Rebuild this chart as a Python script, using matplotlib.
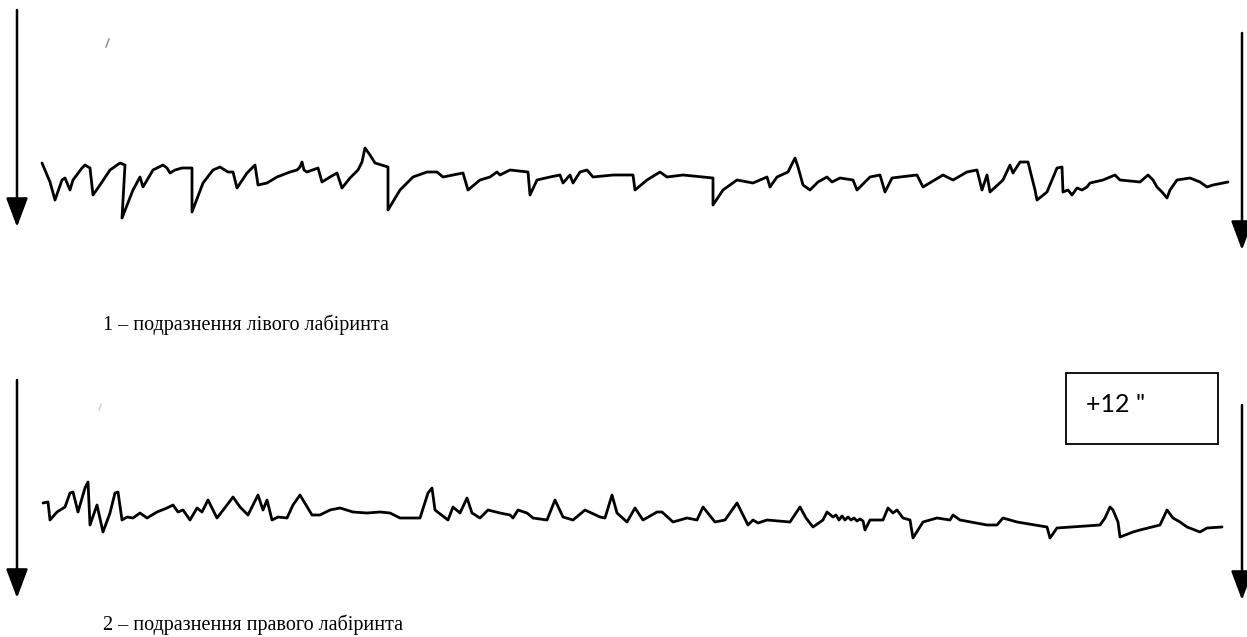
import matplotlib
matplotlib.use("Agg")
import matplotlib.pyplot as plt

# nystagmogram traces: (x, y) in page pixels, y grows down
trace1 = [(42, 163), (50, 182), (55, 200), (62, 180), (65, 178), (70, 190),
          (73, 180), (82, 168), (85, 165), (90, 168), (93, 195), (100, 185),
          (110, 170), (120, 163), (125, 165), (122, 218), (133, 190), (140, 177),
          (143, 187), (153, 170), (163, 165), (167, 168), (170, 173), (175, 170),
          (182, 168), (192, 168), (192, 212), (203, 183), (213, 170), (220, 167),
          (228, 172), (233, 172), (237, 188), (247, 173), (255, 165), (258, 185),
          (267, 183), (277, 177), (290, 172), (297, 170), (300, 167), (302, 162),
          (304, 170), (307, 172), (318, 168), (322, 182), (330, 177), (337, 173),
          (342, 188), (350, 178), (358, 170), (362, 162), (365, 148), (370, 155),
          (375, 163), (388, 167), (388, 210), (400, 190), (413, 177), (427, 172),
          (437, 172), (443, 177), (463, 173), (468, 190), (480, 180), (490, 177),
          (497, 172), (500, 175), (510, 170), (528, 172), (530, 195), (537, 180),
          (550, 177), (560, 175), (563, 183), (570, 175), (573, 183), (580, 172),
          (587, 170), (593, 177), (613, 175), (633, 175), (635, 190), (647, 180),
          (660, 172), (667, 177), (683, 175), (713, 178), (713, 205), (723, 190),
          (737, 180), (753, 183), (767, 177), (770, 187), (777, 177), (788, 172),
          (795, 158), (798, 167), (803, 185), (810, 190), (818, 182), (827, 177),
          (832, 182), (840, 178), (853, 180), (857, 190), (870, 177), (875, 176),
          (880, 175), (885, 192), (892, 178), (900, 177), (917, 175), (923, 187),
          (943, 175), (953, 180), (967, 172), (977, 170), (982, 190), (987, 175),
          (990, 192), (1003, 180), (1010, 165), (1013, 173), (1020, 162),
          (1028, 162), (1035, 190), (1037, 200), (1047, 192), (1057, 168),
          (1062, 167), (1063, 192), (1068, 190), (1072, 195), (1077, 188),
          (1082, 190), (1087, 187), (1090, 183), (1103, 180), (1115, 175),
          (1120, 180), (1140, 182), (1148, 175), (1153, 180), (1157, 187),
          (1162, 192), (1167, 198), (1170, 190), (1177, 180), (1190, 178),
          (1200, 182), (1207, 187), (1213, 185), (1228, 182)]

trace2 = [(43, 503), (48, 502), (50, 520), (57, 512), (65, 507), (70, 493),
          (73, 492), (78, 512), (85, 488), (88, 482), (90, 525), (97, 505),
          (103, 532), (110, 513), (115, 493), (118, 492), (122, 520), (127, 517),
          (133, 518), (140, 513), (147, 518), (157, 512), (167, 508), (173, 505),
          (178, 512), (183, 510), (190, 520), (197, 508), (202, 512), (208, 500),
          (212, 508), (217, 518), (227, 505), (233, 497), (240, 507), (248, 515),
          (258, 495), (263, 510), (267, 500), (272, 520), (278, 517), (287, 518),
          (293, 505), (300, 495), (303, 500), (312, 515), (320, 515), (330, 510),
          (340, 508), (353, 512), (367, 513), (380, 512), (390, 513), (400, 518),
          (420, 518), (428, 493), (432, 488), (435, 510), (448, 520), (453, 507),
          (460, 513), (467, 498), (472, 513), (480, 518), (488, 510), (500, 513),
          (510, 515), (513, 518), (518, 510), (527, 513), (533, 518), (547, 520),
          (555, 500), (563, 517), (573, 520), (585, 510), (600, 517), (605, 518),
          (612, 495), (617, 513), (627, 522), (635, 508), (643, 520), (657, 512),
          (662, 512), (673, 522), (687, 518), (697, 520), (703, 507), (715, 522),
          (725, 520), (737, 503), (742, 513), (748, 525), (753, 520), (758, 523),
          (767, 520), (790, 522), (800, 507), (806, 518), (813, 527), (823, 520),
          (827, 512), (833, 517), (836, 515), (839, 520), (842, 516), (845, 520),
          (848, 517), (851, 520), (854, 518), (857, 521), (860, 519), (863, 521),
          (865, 530), (870, 520), (883, 520), (888, 508), (893, 513), (897, 510),
          (903, 518), (910, 520), (913, 538), (923, 522), (937, 518), (950, 520),
          (953, 515), (960, 520), (987, 525), (997, 525), (1003, 518), (1017, 522),
          (1047, 527), (1050, 538), (1057, 528), (1100, 525), (1105, 518),
          (1110, 507), (1113, 510), (1118, 522), (1120, 537), (1133, 532),
          (1140, 530), (1160, 525), (1167, 510), (1173, 518), (1180, 522),
          (1187, 527), (1200, 532), (1207, 528), (1222, 527)]

# time arrows: x, top, tip
arrows = [(17, 10, 227), (1242, 33, 250), (17, 380, 598), (1242, 405, 600)]

captions = ["1 \u2013 подразнення лівого лабіринта",
            "2 \u2013 подразнення правого лабіринта"]
caption_y = [325, 625]
box_label = '+12 "'

W, H = 1247, 637
fig = plt.figure(figsize=(W / 100, H / 100), dpi=100)
ax = fig.add_axes([0, 0, 1, 1])
ax.set_xlim(0, W)
ax.set_ylim(H, 0)
ax.axis("off")

for tr in (trace1, trace2):
    xs = [p[0] for p in tr]
    ys = [p[1] for p in tr]
    ax.plot(xs, ys, color="black", lw=2.0, solid_joinstyle="round",
            solid_capstyle="round")

for x, top, tip in arrows:
    ax.annotate("", xy=(x, tip), xytext=(x, top),
                arrowprops=dict(arrowstyle="-|>,head_length=1.2,head_width=0.45",
                                mutation_scale=15, lw=1.8, color="black",
                                shrinkA=0, shrinkB=0))

for txt, y in zip(captions, caption_y):
    ax.text(103, y, txt, family="Liberation Serif", fontsize=14.5,
            va="center", ha="left")

# "+12" time mark box
ax.add_patch(plt.Rectangle((1066, 373), 152, 71, fill=False, lw=1.3,
                           edgecolor="black"))
ax.text(1086, 404, box_label, family="Lato", fontsize=18, va="center", ha="left")

# faint scan specks
ax.plot([106, 109], [47, 39], color="0.6", lw=1.2)
ax.plot([99, 101], [410, 404], color="0.8", lw=1.0)

fig.savefig("out.png", dpi=100)
